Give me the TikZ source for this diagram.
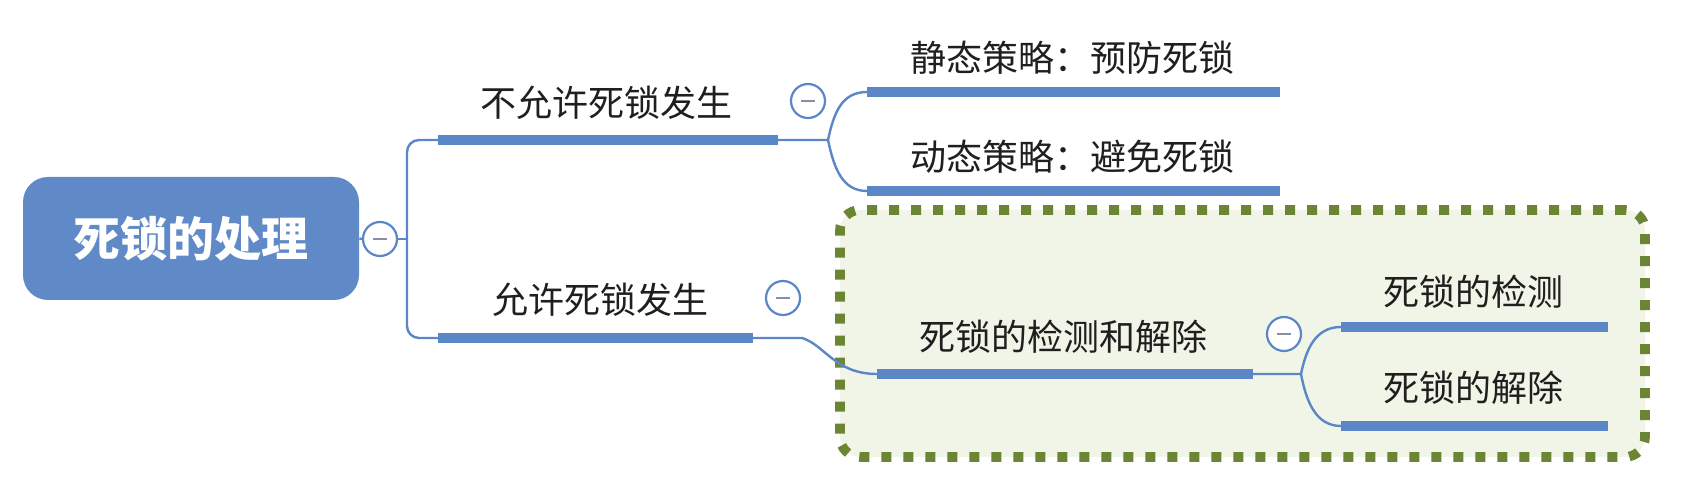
\documentclass[tikz,border=0pt]{standalone}
\usepackage{fontspec}
\newfontfamily\cjk{Noto Sans CJK SC}
\definecolor{mblue}{HTML}{5B87C6}
\definecolor{rootblue}{HTML}{5F8AC7}
\definecolor{olivedot}{HTML}{6B8532}
\definecolor{boxfill}{HTML}{F1F5E7}
\definecolor{minusgray}{HTML}{8C8CA6}
\begin{document}
\begin{tikzpicture}[x=0.5pt,y=-0.5pt,
  bar/.style={mblue, line width=5pt},
  link/.style={mblue, line width=1.2pt},
  topic/.style={font=\cjk\fontsize{18}{18}\selectfont, text=black!88, inner sep=0pt},
  collapse/.style={circle, draw=mblue, fill=white, line width=1.1pt, minimum size=17pt, inner sep=0pt},
  minus/.style={minusgray, line width=1.2pt}
]
\useasboundingbox (0,0) rectangle (1688,491);
\fill[white] (0,0) rectangle (1688,491);

% group box
\node (grp) [draw=olivedot, fill=boxfill, line width=4.8pt, dash pattern=on 5pt off 6pt,
  rounded corners=10pt, minimum width=402.5pt, minimum height=123.5pt, inner sep=0pt]
  at (1242.5,333.5) {};

% root
\node (root) [fill=rootblue, rounded corners=12.5pt, minimum width=168pt, minimum height=61.5pt,
  inner sep=0pt, text=white, font=\cjk\bfseries\fontsize{23.5}{23.5}\selectfont]
  at (191,238.5) {死锁的处理};

% coordinates
\coordinate (j0) at (407,239);
\coordinate (b1s) at (438,140);  \coordinate (b1e) at (778,140);
\coordinate (b2s) at (438,338);  \coordinate (b2e) at (753,338);
\coordinate (j1) at (828,140);
\coordinate (b11s) at (867,92);  \coordinate (b11e) at (1280,92);
\coordinate (b12s) at (867,191); \coordinate (b12e) at (1280,191);
\coordinate (j2) at (802,338);
\coordinate (b21s) at (877,374); \coordinate (b21e) at (1253,374);
\coordinate (j3) at (1301,374);
\coordinate (b211s) at (1341,327); \coordinate (b211e) at (1608,327);
\coordinate (b212s) at (1341,426); \coordinate (b212e) at (1608,426);

% collapse circles
\node (c0) [collapse] at (380,239) {};
\node (c1) [collapse] at (808,101) {};
\node (c2) [collapse] at (783,298) {};
\node (c3) [collapse] at (1284,334) {};
\foreach \c in {c0,c1,c2,c3}{
  \draw[minus] ([xshift=-3.5pt]\c.center) -- ([xshift=3.5pt]\c.center);
}

% connectors
\draw[link] (root.east) -- (c0.west);
\draw[link] (c0.east) -- (j0);
\draw[link, rounded corners=6pt] (b1s) -| (j0) |- (b2s);
\draw[link] (b1e) -- (j1) .. controls (834,112) and (842,92) .. (b11s);
\draw[link] (j1) .. controls (834,168) and (842,191) .. (b12s);
\draw[link] (b2e) -- (j2) .. controls (825,345) and (835,374) .. (b21s);
\draw[link] (b21e) -- (j3) .. controls (1306,350) and (1315,327) .. (b211s);
\draw[link] (j3) .. controls (1306,400) and (1315,426) .. (b212s);

% bars
\draw[bar] (b1s) -- (b1e);
\draw[bar] (b2s) -- (b2e);
\draw[bar] (b11s) -- (b11e);
\draw[bar] (b12s) -- (b12e);
\draw[bar] (b21s) -- (b21e);
\draw[bar] (b211s) -- (b211e);
\draw[bar] (b212s) -- (b212e);

% texts
\node (t1) [topic] at (606,103) {不允许死锁发生};
\node (t2) [topic] at (600,300) {允许死锁发生};
\node (t11) [topic] at (1072,58) {静态策略：预防死锁};
\node (t12) [topic] at (1072,157) {动态策略：避免死锁};
\node (t21) [topic] at (1063,337) {死锁的检测和解除};
\node (t211) [topic] at (1473,292) {死锁的检测};
\node (t212) [topic] at (1473,388) {死锁的解除};
\end{tikzpicture}
\end{document}
